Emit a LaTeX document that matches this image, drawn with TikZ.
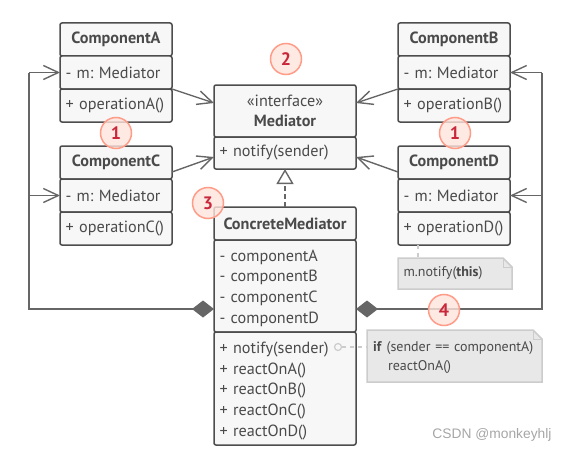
\documentclass[tikz,border=0pt]{standalone}
\usepackage{fontspec}
\setmainfont{PT Sans}
\newfontfamily\markfont{Liberation Sans}
\usepackage{xcolor}
\usetikzlibrary{positioning,calc,arrows.meta}
\frenchspacing
\definecolor{boxline}{HTML}{4D4D4D}
\definecolor{boxfill}{HTML}{F7F7F7}
\definecolor{boxtext}{HTML}{4A4A4A}
\definecolor{wire}{HTML}{666666}
\definecolor{notefill}{HTML}{E8E8E8}
\definecolor{noteline}{HTML}{CCCCCC}
\definecolor{badgeline}{HTML}{FF9C88}
\definecolor{badgefill}{HTML}{FFE3DC}
\definecolor{badgetext}{HTML}{C9283B}
\newcommand{\lowertext}[1]{\par\vspace{-#1}}
\tikzset{
    part/.style={draw=boxline, fill=boxfill, line width=1.5pt, rounded corners=2pt, outer sep=0pt, inner sep=0pt,
        minimum height=33pt, text=boxtext, font=\fontsize{16.2}{20.6}\selectfont},
    title/.style={part, font=\fontsize{16.2}{20.6}\selectfont\bfseries},
    member/.style={part, align=left, inner xsep=5.5pt},
    smallpart/.style={member, minimum width=112pt, text width=101pt},
    widepart/.style={member, minimum width=142pt, text width=131pt},
    wireline/.style={draw=wire, line width=1.4pt},
    open/.style={wireline, -{Straight Barb[length=15pt, width=14pt, line width=1.4pt]}},
    holder/.style={wireline, {Diamond[length=22pt, width=17pt, fill=wire]}-},
    realize/.style={wireline, dashed, dash pattern=on 5pt off 3pt, -{Triangle[open, length=15pt, width=17pt, line width=1.4pt, fill=white]}},
    note/.style={fill=notefill, inner sep=0pt, outer sep=0pt, text=boxtext, align=left, font=\fontsize{14}{18.5}\selectfont},
    noteedge/.style={draw=noteline, line width=1.5pt},
    notelink/.style={draw=noteline, line width=1.2pt, dashed, dash pattern=on 4pt off 4pt},
    badge/.style={circle, draw=badgeline, fill=badgefill, line width=1.5pt, minimum size=31pt, inner sep=0pt,
        fill opacity=0.8, text opacity=1, text=badgetext, font=\fontsize{18}{18}\selectfont\bfseries},
}
\begin{document}
\begin{tikzpicture}[x=1pt, y=-1pt]
    \useasboundingbox (0,0) rectangle (567,452);

    \foreach \side/\xpos/\ypos in {A/116/39.5, B/454/39.5, C/116/162.5, D/454/162.5}{
        \node[title, minimum width=112pt] (comp\side) at (\xpos,\ypos) {Component\side};
        \node[smallpart, below=0pt of comp\side] (comp\side m) {- m: Mediator};
        \node[smallpart, below=0pt of comp\side m] (comp\side op) {+ operation\side()};
    }

    \node[part, minimum width=142pt, minimum height=52pt, align=center] (medHead) at (285,111)
        {«interface»\\\textbf{Mediator}};
    \node[widepart, minimum height=32pt, below=0pt of medHead] (medOp) {+ notify(sender)};

    \node[title, minimum width=142pt] (concHead) at (285,223.5) {ConcreteMediator};
    \node[widepart, minimum height=92pt, below=0pt of concHead] (concField)
        {- componentA\\- componentB\\- componentC\\- componentD\lowertext{4pt}};
    \node[widepart, minimum height=113pt, below=0pt of concField] (concOp)
        {+ notify(sender)\\+ reactOnA()\\+ reactOnB()\\+ reactOnC()\\+ reactOnD()\lowertext{5pt}};

    \coordinate (medInA) at (214,103);
    \coordinate (medInC) at (214,157);
    \coordinate (medInB) at (356,103);
    \coordinate (medInD) at (356,157);
    \draw[open] (compAop.north east) -- (medInA);
    \draw[open] (compC.east |- 0,172) -- (medInC);
    \draw[open] (compBop.north west) -- (medInB);
    \draw[open] (compD.west |- 0,172) -- (medInD);
    \draw[realize] (concHead.north) -- (medOp.south);

    \coordinate (leftWire) at (29,309);
    \coordinate (rightWire) at (542,309);
    \draw[holder] (concField.west |- leftWire) -- (leftWire) -- (leftWire |- compAm.west);
    \draw[holder] (concField.east |- rightWire) -- (rightWire) -- (rightWire |- compBm.east);
    \draw[open] (leftWire |- compAm.west) -- (compAm.west);
    \draw[open] (leftWire |- compCm.west) -- (compCm.west);
    \draw[open] (rightWire |- compBm.east) -- (compBm.east);
    \draw[open] (rightWire |- compDm.east) -- (compDm.east);

    \node[note, minimum width=114pt, minimum height=31pt, text width=103pt] (noteThis) at (455,273.5)
        {m.notify(\textbf{this})};
    \node[note, minimum width=175pt, minimum height=52pt, text width=163pt] (noteIf) at (454.5,356)
        {\textbf{if} (sender == componentA)\\\hspace{15pt}reactOnA()\lowertext{3pt}};
    \foreach \n in {noteThis, noteIf}{
        \fill[white] ($(\n.north east)+(-9,0)$) -- (\n.north east) -- ($(\n.north east)+(0,9)$) -- cycle;
        \draw[noteedge] (\n.north west) -- ($(\n.north east)+(-9,0)$) -- ($(\n.north east)+(0,9)$)
            -- (\n.south east) -- (\n.south west) -- cycle;
        \draw[noteedge, line width=1pt] ($(\n.north east)+(-9,0)$) -- ($(\n.north east)+(-9,9)$) -- ($(\n.north east)+(0,9)$);
    }
    \coordinate (noteThisTop) at (418,258);
    \draw[notelink] (noteThisTop |- compDop.south) -- (noteThisTop);
    \node[circle, draw=noteline, line width=1.2pt, minimum size=7pt, inner sep=0pt] (notifyDot) at (338,347) {};
    \draw[notelink] (notifyDot) -- (notifyDot -| noteIf.west);

    \node[badge] (badgeA) at (116,133) {1};
    \node[badge] (badgeB) at (455,133) {1};
    \node[badge] (badgeC) at (286,59) {2};
    \node[badge] (badgeD) at (208,203) {3};
    \node[badge] (badgeE) at (444,310) {4};

    \node[text=gray!70, font=\markfont\fontsize{13.8}{14}\selectfont] (mark) at (492,435) {CSDN @monkeyhlj};
\end{tikzpicture}
\end{document}
